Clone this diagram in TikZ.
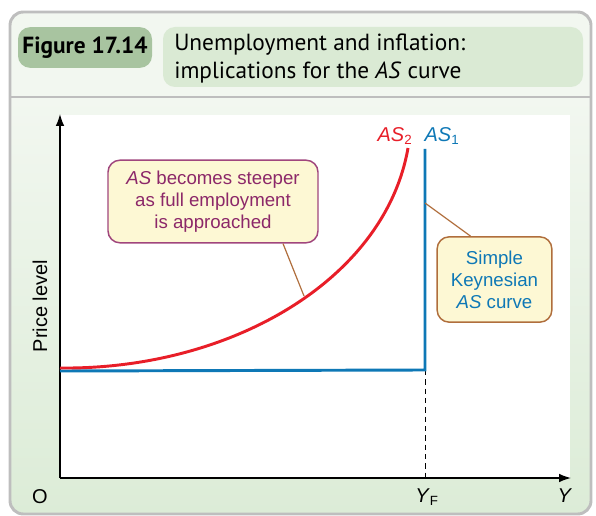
\documentclass[tikz,border=0pt]{standalone}
\usepackage{fontspec}
\setmainfont{Liberation Sans}
\newfontfamily\headfont{PT Sans}
\usetikzlibrary{positioning,calc,arrows.meta}
\definecolor{asred}{RGB}{232,30,40}
\definecolor{asblue}{RGB}{14,120,182}
\definecolor{notepurple}{RGB}{140,40,105}
\definecolor{noteborder}{RGB}{160,70,125}
\definecolor{notebrown}{RGB}{176,110,60}
\definecolor{notefill}{RGB}{253,248,212}
\definecolor{framegray}{RGB}{190,190,190}
\definecolor{headgreen}{RGB}{242,247,240}
\definecolor{titlegreen}{RGB}{218,234,212}
\definecolor{badgegreen}{RGB}{168,196,160}
\definecolor{bodygreen}{RGB}{220,236,215}
\newcommand{\subnum}[1]{\textsubscript{\upshape\fontsize{10}{10}\selectfont #1}}

\begin{document}
\begin{tikzpicture}[x=0.75pt, y=-0.75pt,
    note/.style={draw, rounded corners=9pt, fill=notefill, line width=1.1pt, align=center,
        font=\fontsize{14}{16.5}\selectfont, inner sep=4pt},
    pointer/.style={draw=notebrown, line width=0.9pt},
    axis/.style={line width=1.1pt, -{Latex[length=9pt,width=6.5pt]}},
    axislabel/.style={font=\fontsize{15}{18}\selectfont},
    curvelabel/.style={font=\fontsize{15}{18}\selectfont\itshape, inner sep=1pt}]

    \useasboundingbox (0,0) rectangle (596,516);

    % frame, header and body
    \fill[headgreen, rounded corners=10pt] (10,12) rectangle (591,514);
    \shade[top color=headgreen, bottom color=bodygreen] (10,97) -- (591,97) {[rounded corners=10pt] -- (591,514) -- (10,514)} -- cycle;
    \draw[framegray, line width=1.6pt] (10,97) -- (591,97);
    \draw[framegray, line width=2.2pt, rounded corners=10pt] (10,12) rectangle (591,514);

    \node[fill=badgegreen, rounded corners=9pt, minimum width=100.5pt, minimum height=30.5pt,
        font=\headfont\fontsize{17.5}{20}\selectfont\bfseries] (badge) at (85,47.5) {Figure 17.14};
    \node[fill=titlegreen, rounded corners=9pt, minimum width=315pt, minimum height=45pt] (titlebox) at (373,57) {};
    \node[anchor=west, align=left, font=\headfont\fontsize{17.5}{21}\selectfont, inner sep=0pt] (title)
        at (174,59) {Unemployment and inflation:\\implications for the \textit{AS} curve};

    % plot area
    \fill[white] (60,115) rectangle (570,478);
    \coordinate (O) at (60,478);
    \coordinate (ytop) at (60,114);
    \coordinate (xend) at (571,478);
    \coordinate (full) at (425,478);
    \coordinate (kink) at (425,370);
    \coordinate (top1) at (425,149);
    \coordinate (base2) at (60,368);
    \coordinate (top2) at (408,148);

    \draw[axis] (O) -- (ytop);
    \draw[axis] (O) -- (xend);
    \draw[dashed, line width=0.7pt, dash pattern=on 4pt off 3pt] (kink) -- (full);

    \draw[asblue, line width=2.2pt] (60,371) -- (kink) -- (top1);
    \draw[asred, line width=2.2pt] (base2) .. controls (230,370) and (385,280) .. (top2);
    \coordinate (steep) at (304,296);
    \coordinate (vert) at (425,203);

    \node[curvelabel, asred, anchor=south] (as2) at (395,146) {AS\subnum{2}};
    \node[curvelabel, asblue, anchor=south] (as1) at (442,146) {AS\subnum{1}};

    \node[axislabel] (olabel) at (40,497) {O};
    \node[axislabel] (yflabel) at (427,497) {\textit{Y}\subnum{F}};
    \node[axislabel] (ylabel) at (565,496) {\textit{Y}};
    \node[axislabel, rotate=90] (plabel) at (40,306) {Price level};

    % notes
    \node[note, draw=noteborder, text=notepurple, minimum width=157.5pt, minimum height=62pt] (steeper)
        at (213,201.5) {\textit{AS} becomes steeper\\as full employment\\is approached};
    \node[note, draw=notebrown, text=asblue, minimum width=86pt, minimum height=64pt] (keynes)
        at (494.5,279.5) {Simple\\Keynesian\\\textit{AS} curve};

    \draw[pointer] ($(steeper.south)+(70,0)$) -- (steep);
    \draw[pointer] ($(keynes.north)+(-24,0)$) -- (vert);
\end{tikzpicture}
\end{document}
